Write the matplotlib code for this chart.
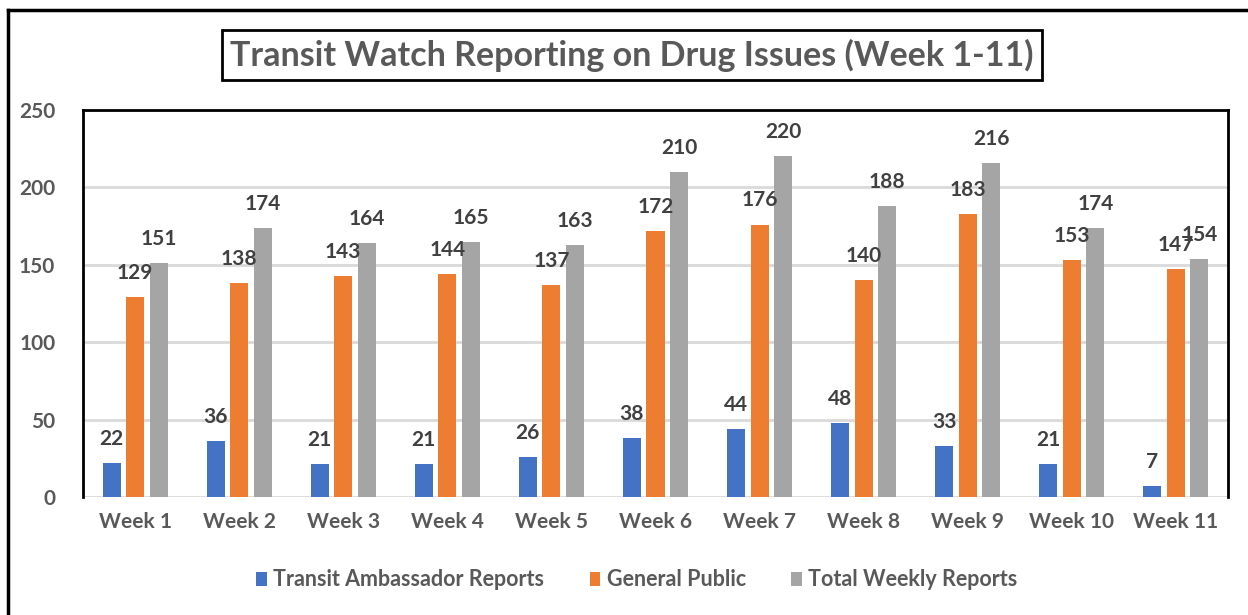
import matplotlib
matplotlib.use("Agg")
import matplotlib.pyplot as plt
import numpy as np
from matplotlib.lines import Line2D
from matplotlib.patches import Patch

categories = ["Week 1", "Week 2", "Week 3", "Week 4", "Week 5", "Week 6",
              "Week 7", "Week 8", "Week 9", "Week 10", "Week 11"]
ambassador = [22, 36, 21, 21, 26, 38, 44, 48, 33, 21, 7]
public = [129, 138, 143, 144, 137, 172, 176, 140, 183, 153, 147]
total = [151, 174, 164, 165, 163, 210, 220, 188, 216, 174, 154]
series_names = ["Transit Ambassador Reports", "General Public", "Total Weekly Reports"]
colors = ["#4472C4", "#ED7D31", "#A5A5A5"]
title = "Transit Watch Reporting on Drug Issues (Week 1-11)"

plt.rcParams['font.family'] = ['Lato', 'DejaVu Sans']
txt = "#595959"

fig = plt.figure(figsize=(12.48, 6.15), dpi=100)
ax = fig.add_axes([83/1248, 1-497/615, (1228-83)/1248, (497-110)/615])

x = np.arange(len(categories))
w = 0.173
step = 0.226
for i, (vals, c) in enumerate(zip([ambassador, public, total], colors)):
    pos = x + (i - 1) * step
    ax.bar(pos, vals, width=w, color=c, zorder=3, label=series_names[i])
    for p, v in zip(pos, vals):
        ax.annotate(str(v), (p, v), xytext=(0, 13), textcoords="offset points",
                    ha="center", va="baseline", fontsize=15, fontweight="bold",
                    color="#404040", zorder=4)

ax.set_xlim(-0.5, len(categories) - 0.5)
ax.set_ylim(0, 250)
ax.set_yticks([0, 50, 100, 150, 200, 250])
ax.set_xticks(x)
ax.set_xticklabels(categories)
ax.tick_params(axis="both", length=0, labelsize=15, labelcolor=txt)
ax.tick_params(axis="y", pad=20)
ax.tick_params(axis="x", pad=11)
for lab in ax.get_xticklabels() + ax.get_yticklabels():
    lab.set_fontweight("bold")
ax.yaxis.grid(True, color="#D9D9D9", linewidth=2, zorder=0)
ax.set_axisbelow(True)
for s in ["top", "left", "right"]:
    ax.spines[s].set_color("black")
    ax.spines[s].set_linewidth(2)
ax.spines["bottom"].set_visible(False)

# outer border
fig.add_artist(Line2D([8/1248, 8/1248], [0, 1-10/615], transform=fig.transFigure,
                      color="black", linewidth=2.5))
fig.add_artist(Line2D([8/1248, 1], [1-10/615, 1-10/615], transform=fig.transFigure,
                      color="black", linewidth=2.5))

fig.text(632/1248, 1-55/615, title, ha="center", va="center", fontsize=24.5,
         fontweight="bold", color=txt,
         bbox=dict(boxstyle="square,pad=0.25", facecolor="white", edgecolor="black",
                   linewidth=2))

handles = [Patch(facecolor=c, edgecolor="none") for c in colors]
leg = fig.legend(handles, series_names, loc="center", bbox_to_anchor=(637/1248, 1-580/615),
                 ncol=3, frameon=False, fontsize=15.5, handlelength=0.5, handleheight=0.6,
                 handletextpad=0.3, columnspacing=2.1)
for t in leg.get_texts():
    t.set_color(txt)
    t.set_fontweight("bold")

fig.savefig("out.png", dpi=100)
